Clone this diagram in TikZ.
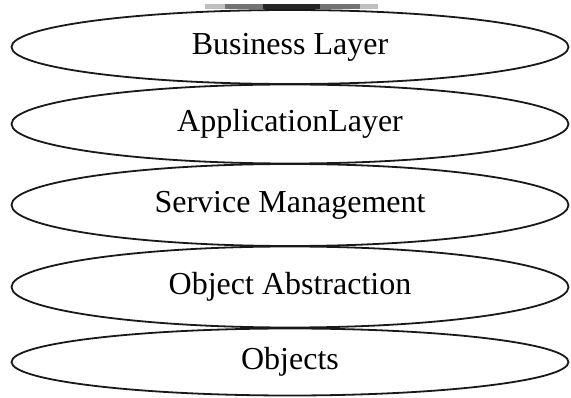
\documentclass[tikz,border=0pt]{standalone}
\usepackage{fontspec}
\setmainfont{Liberation Serif}
\usepackage{tikz}
\usetikzlibrary{shapes.geometric}
\tikzset{
  layer/.style={ellipse,draw=black!90,line width=1.8pt,minimum width=557pt,
                inner sep=0pt,font=\fontsize{32}{36}\selectfont},
  topbar/.style={line width=5pt},
}

\begin{document}
\begin{tikzpicture}[x=1pt,y=-1pt]
  \useasboundingbox (0,0) rectangle (571,398);
  % grey strip above the stack
  \draw[topbar,black!25] (205,7) -- (378,7);
  \draw[topbar,black!55] (225,7) -- (360,7);
  \draw[topbar,black!85] (263,7) -- (320,7);
  \node[layer,minimum height=74pt] (bus) at (290,47) {Business Layer};
  \node[layer,minimum height=79pt] (app) at (290,124) {ApplicationLayer};
  \node[layer,minimum height=82pt] (svc) at (290,205) {Service Management};
  \node[layer,minimum height=81pt] (abs) at (290,287) {Object Abstraction};
  \node[layer,minimum height=67pt] (obj) at (290,362) {Objects};
\end{tikzpicture}
\end{document}
